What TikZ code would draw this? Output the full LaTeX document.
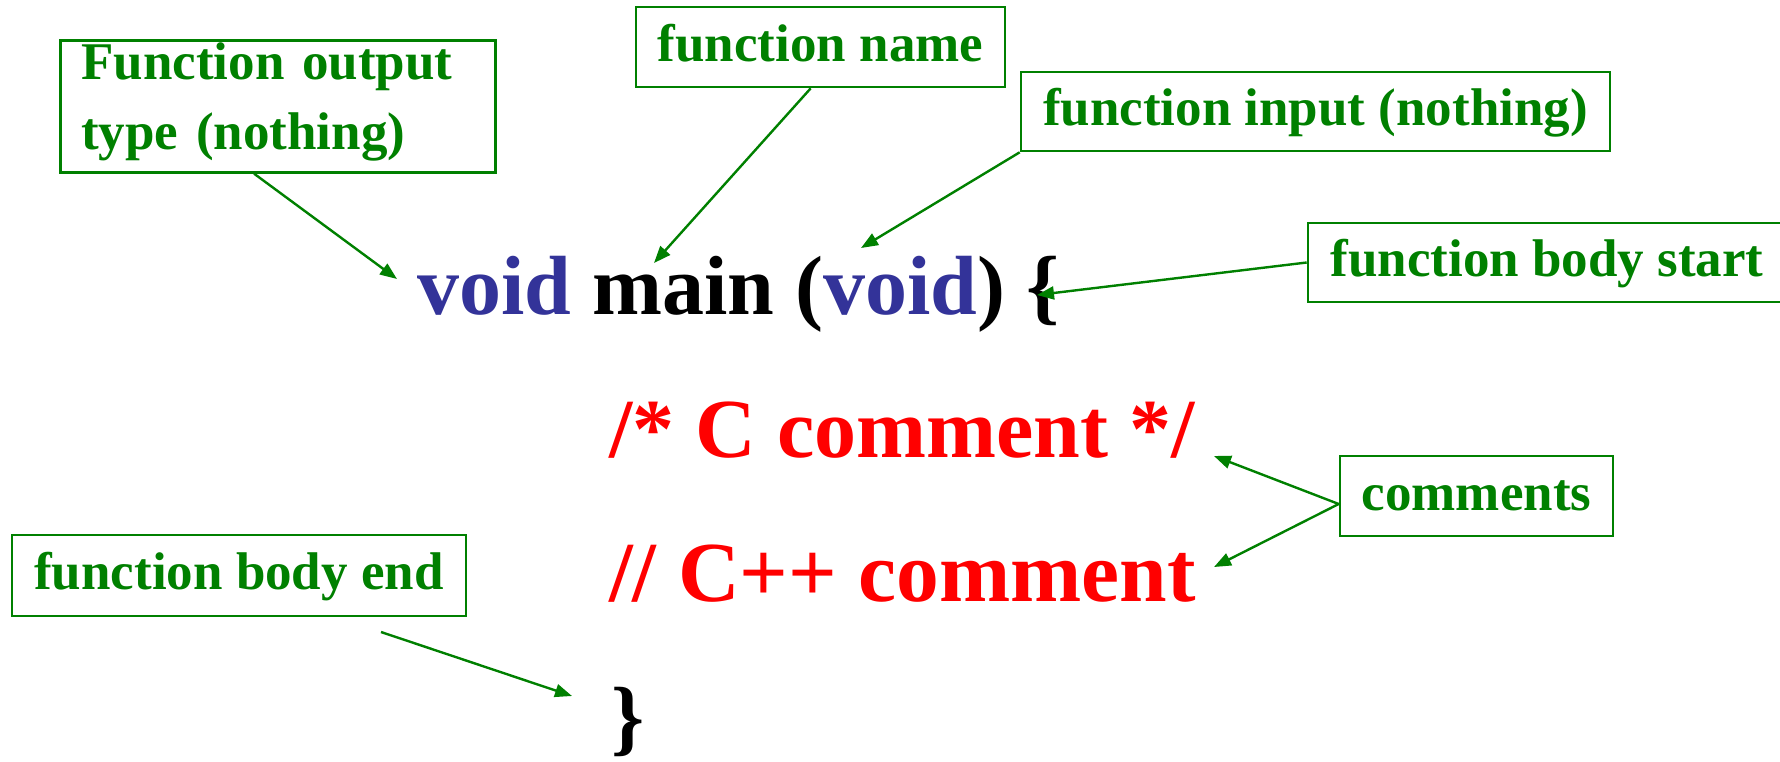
\documentclass[tikz,border=0pt]{standalone}
\usepackage{fontspec}
\setmainfont{Liberation Serif}
\usetikzlibrary{arrows.meta,calc}
\definecolor{lblgreen}{RGB}{0,128,0}
\definecolor{codeblue}{RGB}{51,51,153}
\definecolor{codered}{RGB}{255,0,0}
\begin{document}
\begin{tikzpicture}[x=1pt,y=-1pt,
  lblbase/.style={draw=lblgreen, line width=2.6pt, text=lblgreen,
    font=\fontsize{53}{70}\selectfont\bfseries, inner sep=0pt},
  lbl/.style={lblbase, text height=40pt, text depth=12pt, minimum height=80pt},
  code/.style={anchor=base west, inner sep=0pt, font=\fontsize{84}{100}\selectfont\bfseries},
  arr/.style={draw=lblgreen, line width=2.4pt, -{Triangle[length=17pt,width=13pt]}}]
\useasboundingbox (0,0) rectangle (1780,761);

% label boxes
\node[lblbase, anchor=north west, minimum width=435pt, minimum height=132pt,
      inner xsep=21pt, text width=393pt, align=left] (outbox) at (59,39)
  {\rule{0pt}{39pt}\mbox{Function output}\\\mbox{type (nothing)}\rule[-23pt]{0pt}{23pt}};
\node[lbl, minimum width=369pt] (namebox) at (820.5,47) {function name};
\node[lbl, minimum width=589pt, minimum height=79pt] (inbox) at (1315.5,111.5) {function input (nothing)};
\node[lbl, minimum width=478pt, minimum height=79pt] (startbox) at (1547,262.5) {function body start};
\node[lbl, minimum width=273pt] (combox) at (1476.5,496) {comments};
\node[lbl, minimum width=454pt, minimum height=81pt] (endbox) at (239,575.5) {function body end};

% code
\node[code] (sig) at (417,314) {\textcolor{codeblue}{void} main (\textcolor{codeblue}{void}) \{};
\node[code, text=codered] (cmt1) at (609,457) {/* C comment */};
\node[code, text=codered, font=\fontsize{85.5}{100}\selectfont\bfseries] (cmt2) at (609,601) {// C++ comment};
\node[code] (close) at (611,745) {\}};

% arrow tips
\coordinate (t1) at (397,279);
\coordinate (t2) at (654,263);
\coordinate (t3) at (861,248);
\coordinate (t4) at (1037,295);
\coordinate (t5) at (1214,456);
\coordinate (t6) at (1214,567);
\coordinate (e0) at (381,632);
\coordinate (t7) at (572,696);

\draw[arr] ($(outbox.south west)+(195,0)$) -- (t1);
\draw[arr] ($(namebox.south west)+(176,0)$) -- (t2);
\draw[arr] (inbox.south west) -- (t3);
\draw[arr] (startbox.west) -- (t4);
\draw[arr] ($(combox.west)+(0,8)$) -- (t5);
\draw[arr] ($(combox.west)+(0,8)$) -- (t6);
\draw[arr] (e0) -- (t7);
\end{tikzpicture}
\end{document}
